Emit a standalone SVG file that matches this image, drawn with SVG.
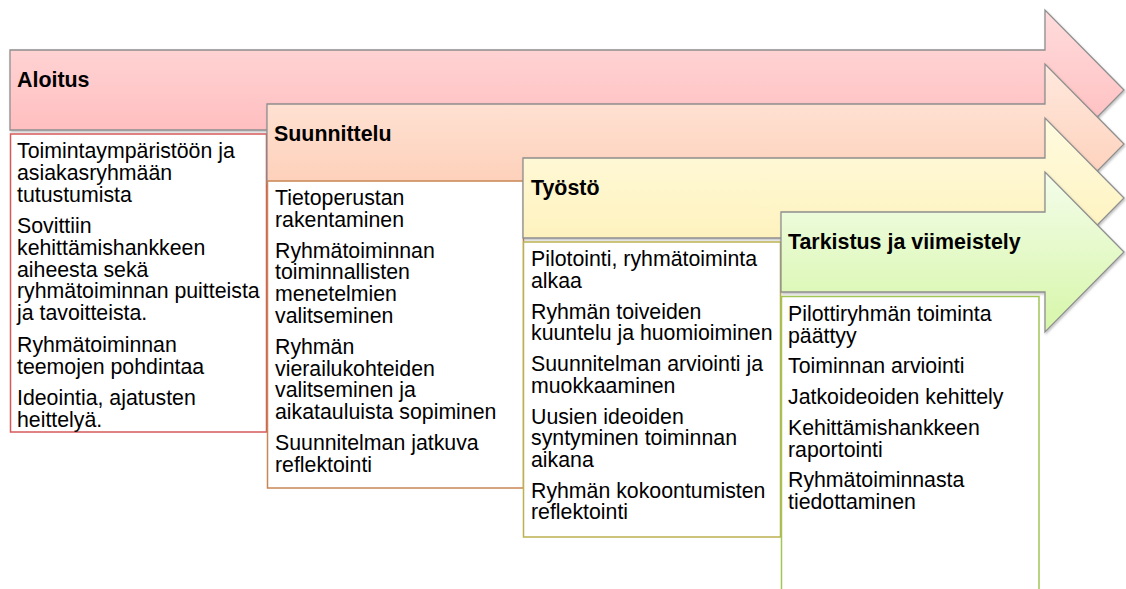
<svg xmlns="http://www.w3.org/2000/svg" width="1126" height="589" viewBox="0 0 1126 589">
<style>
  .arrow { stroke: #8f8f8f; stroke-width: 1.3; stroke-linejoin: miter; filter: url(#sh); }
  .hdr { font-family: "Liberation Sans", Arial, sans-serif; font-size: 21.4px; font-weight: bold; fill: #000; }
  .txt { font-family: "Liberation Sans", Arial, sans-serif; font-size: 21.3px; fill: #000; }
  .box { fill: #fff; stroke-width: 1.5; }
</style>
<defs>
  <filter id="sh" x="-5%" y="-5%" width="110%" height="115%">
    <feDropShadow dx="1" dy="1.5" stdDeviation="1.2" flood-color="#000" flood-opacity="0.25"/>
  </filter>
  <linearGradient id="g1" x1="0" y1="0" x2="0" y2="1">
    <stop offset="0" stop-color="#ffdcdc"/>
    <stop offset="1" stop-color="#ffb5b7"/>
  </linearGradient>
  <linearGradient id="g2" x1="0" y1="0" x2="0" y2="1">
    <stop offset="0" stop-color="#ffe9de"/>
    <stop offset="1" stop-color="#fdc8ae"/>
  </linearGradient>
  <linearGradient id="g3" x1="0" y1="0" x2="0" y2="1">
    <stop offset="0" stop-color="#fffbe0"/>
    <stop offset="1" stop-color="#fdefb3"/>
  </linearGradient>
  <linearGradient id="g4" x1="0" y1="0" x2="0" y2="1">
    <stop offset="0" stop-color="#f4fdeb"/>
    <stop offset="1" stop-color="#d6f6a8"/>
  </linearGradient>
</defs>
<rect width="1126" height="589" fill="#fff"/>

<g id="aloitus">
  <path class="arrow" fill="url(#g1)" d="M10 50 H1045 V10 L1124 90 L1045 170 V130 H10 Z"/>
  <text class="hdr" x="17" y="87">Aloitus</text>
  <rect class="box" x="10.5" y="134" width="256" height="298" stroke="#d65a5a"/>
  <text class="txt" x="17">
    <tspan x="17" y="158.3">Toimintaympäristöön ja</tspan>
    <tspan x="17" y="180">asiakasryhmään</tspan>
    <tspan x="17" y="201.7">tutustumista</tspan>
    <tspan x="17" y="233.2">Sovittiin</tspan>
    <tspan x="17" y="254.9">kehittämishankkeen</tspan>
    <tspan x="17" y="276.6">aiheesta sekä</tspan>
    <tspan x="17" y="298.3">ryhmätoiminnan puitteista</tspan>
    <tspan x="17" y="320">ja tavoitteista.</tspan>
    <tspan x="17" y="351.8">Ryhmätoiminnan</tspan>
    <tspan x="17" y="373.5">teemojen pohdintaa</tspan>
    <tspan x="17" y="405">Ideointia, ajatusten</tspan>
    <tspan x="17" y="426.7">heittelyä.</tspan>
  </text>
</g>

<g id="suunnittelu">
  <path class="arrow" fill="url(#g2)" d="M267 104 H1045 V64 L1124 144 L1045 224 V184 H267 Z"/>
  <text class="hdr" x="274" y="141">Suunnittelu</text>
  <rect class="box" x="267.5" y="181" width="256" height="307" stroke="#c88656"/>
  <text class="txt">
    <tspan x="275" y="205">Tietoperustan</tspan>
    <tspan x="275" y="226.7">rakentaminen</tspan>
    <tspan x="275" y="257.7">Ryhmätoiminnan</tspan>
    <tspan x="275" y="279.4">toiminnallisten</tspan>
    <tspan x="275" y="301.1">menetelmien</tspan>
    <tspan x="275" y="322.8">valitseminen</tspan>
    <tspan x="275" y="353.8">Ryhmän</tspan>
    <tspan x="275" y="375.5">vierailukohteiden</tspan>
    <tspan x="275" y="397.2">valitseminen ja</tspan>
    <tspan x="275" y="418.9">aikatauluista sopiminen</tspan>
    <tspan x="275" y="449.9">Suunnitelman jatkuva</tspan>
    <tspan x="275" y="471.6">reflektointi</tspan>
  </text>
</g>

<g id="tyosto">
  <path class="arrow" fill="url(#g3)" d="M523 158 H1045 V118 L1124 198 L1045 278 V238 H523 Z"/>
  <text class="hdr" x="531" y="195">Työstö</text>
  <rect class="box" x="523.5" y="242" width="257" height="295" stroke="#bcb150"/>
  <text class="txt">
    <tspan x="531" y="266.3">Pilotointi, ryhmätoiminta</tspan>
    <tspan x="531" y="288">alkaa</tspan>
    <tspan x="531" y="318.7">Ryhmän toiveiden</tspan>
    <tspan x="531" y="340.4">kuuntelu ja huomioiminen</tspan>
    <tspan x="531" y="371.1">Suunnitelman arviointi ja</tspan>
    <tspan x="531" y="392.8">muokkaaminen</tspan>
    <tspan x="531" y="423.5">Uusien ideoiden</tspan>
    <tspan x="531" y="445.2">syntyminen toiminnan</tspan>
    <tspan x="531" y="466.9">aikana</tspan>
    <tspan x="531" y="497.6">Ryhmän kokoontumisten</tspan>
    <tspan x="531" y="519.3">reflektointi</tspan>
  </text>
</g>

<g id="tarkistus">
  <path class="arrow" fill="url(#g4)" d="M781 212 H1045 V172 L1124 252 L1045 332 V292 H781 Z"/>
  <text class="hdr" x="788" y="249">Tarkistus ja viimeistely</text>
  <rect class="box" x="781.5" y="296.5" width="257.5" height="300" stroke="#a2c656"/>
  <text class="txt">
    <tspan x="788" y="320.8">Pilottiryhmän toiminta</tspan>
    <tspan x="788" y="342.5">päättyy</tspan>
    <tspan x="788" y="373.3">Toiminnan arviointi</tspan>
    <tspan x="788" y="404">Jatkoideoiden kehittely</tspan>
    <tspan x="788" y="434.8">Kehittämishankkeen</tspan>
    <tspan x="788" y="456.5">raportointi</tspan>
    <tspan x="788" y="487.3">Ryhmätoiminnasta</tspan>
    <tspan x="788" y="509">tiedottaminen</tspan>
  </text>
</g>
</svg>
